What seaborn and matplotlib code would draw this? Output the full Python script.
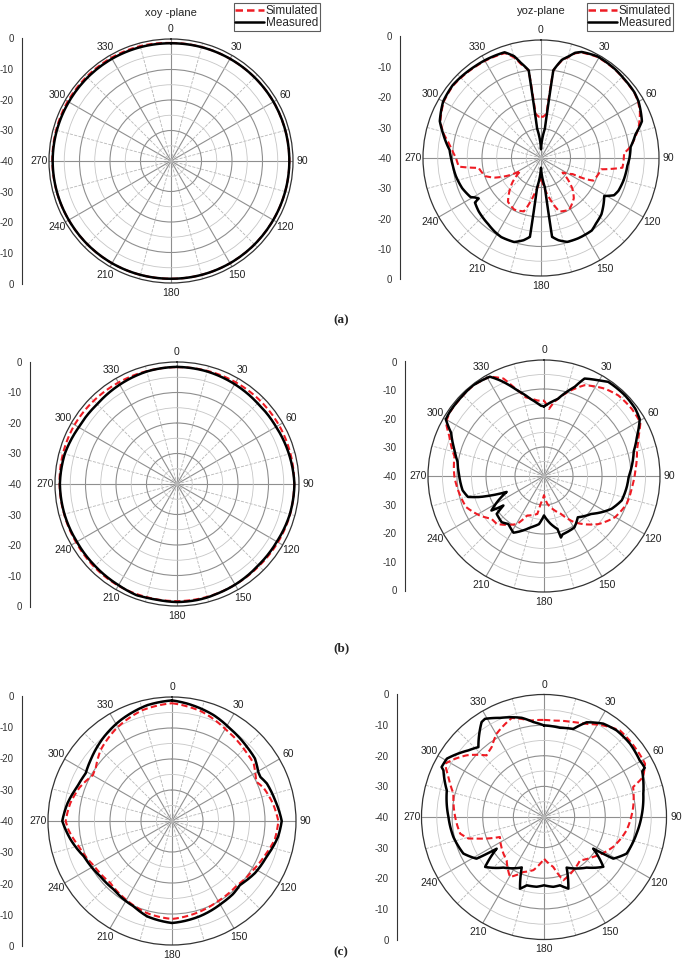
import numpy as np
import pandas as pd
import seaborn as sns
import matplotlib.pyplot as plt
from matplotlib.colors import to_rgb
from matplotlib.ticker import MultipleLocator, FuncFormatter

sns.set_style("white")
plt.rcParams['font.family'] = ['Liberation Sans', 'DejaVu Sans']

# ---- data: angle (deg, clockwise from north) and gain (dB) ----
# (a) xoy-plane
a_xoy_meas_ang = [0, 30, 60, 90, 120, 150, 180, 210, 240, 270, 300, 330, 360]
a_xoy_meas = [-1.4, -1.3, -1.2, -1.2, -1.3, -1.3, -1.4, -1.3, -1.3, -1.2, -1.3, -1.3, -1.4]
a_xoy_sim_ang = [0, 30, 60, 90, 120, 150, 180, 210, 240, 270, 300, 330, 345, 360]
a_xoy_sim = [-1.3, -1.3, -1.2, -1.2, -1.3, -1.3, -1.4, -1.3, -1.3, -1.1, -0.9, -0.9, -1.0, -1.3]

# (a) yoz-plane
a_yoz_meas_ang = [0, 7.5, 8, 12, 15.4, 18, 21, 29, 40, 46, 55, 60, 70, 76, 83, 90, 95, 105,
                  113, 117, 121, 125, 133, 140, 145, 155, 162.6, 168, 172, 172.5, 180, 187.5,
                  188, 192, 197.7, 206.7, 212, 218.5, 229.5, 236, 237, 239, 241, 249, 258,
                  265, 270, 275, 284, 290, 300, 309.5, 324.5, 330, 341, 345.2, 348, 352,
                  352.5, 360]
a_yoz_meas = [-37, -30, -10, -6, -4.2, -2.5, -1.5, -0.6, -0.8, -1.1, -1.3, -1.8, -3.6, -7,
              -9.4, -10, -10.6, -11, -11.5, -12.2, -15, -14, -12, -11, -10, -10, -10.2,
              -11.5, -13, -30, -36.7, -30, -13, -11.5, -10.1, -10, -10.5, -11.3, -12.2,
              -13, -14.8, -14, -12.7, -11.4, -10.5, -10, -9.5, -8.9, -5.8, -3.5, -1.7,
              -1.2, -1.7, -1.8, -2.1, -4.3, -7, -10, -30, -37]
a_yoz_sim_ang = [0, 3, 7, 8, 12, 15.4, 18, 21, 29, 40, 46, 55, 60, 65, 72.5, 82.8, 86.7,
                 96.8, 100.6, 113.4, 115.4, 117, 124, 128.4, 134.4, 140.8, 151.5, 161, 168,
                 180, 190, 197.8, 207.4, 217, 229.6, 237.6, 242, 247, 252, 261, 264, 270,
                 276, 280, 284, 290, 300, 309.5, 324.5, 330, 341, 345.2, 348, 352, 353, 357,
                 360]
a_yoz_sim = [-26, -26, -25, -10, -6.3, -4.4, -2.7, -1.7, -0.8, -0.9, -1.2, -1.4, -2.0,
             -3.0, -5.3, -9.4, -11.8, -12.2, -19.2, -20.7, -23.4, -28, -31.2, -28.5, -25.1,
             -22.4, -20, -20.8, -26, -34, -28, -21, -20.3, -21.4, -27.3, -31.8, -27.2, -23,
             -20.1, -18.6, -12, -11.2, -9.5, -8, -6.0, -3.7, -1.9, -1.4, -1.9, -2.0, -2.4,
             -4.8, -7.5, -10, -25, -26, -26]

# (b) xoy-plane
b_xoy_meas_ang = [0, 15, 30, 45, 60, 75, 90, 105, 120, 135, 150, 160, 165, 170, 180, 190,
                  195, 200, 210, 225, 240, 255, 270, 285, 300, 315, 330, 345, 360]
b_xoy_meas = [-1.6, -1.8, -2.2, -2.6, -2.5, -2.0, -1.5, -1.7, -2.2, -2.3, -1.9, -1.7, -1.5,
              -1.4, -1.3, -1.5, -1.4, -1.2, -1.7, -2.0, -2.1, -1.8, -1.6, -1.9, -2.8, -3.0,
              -2.4, -1.8, -1.6]
b_xoy_sim_ang = [0, 15, 30, 45, 60, 75, 90, 105, 120, 135, 150, 165, 180, 195, 210, 225,
                 240, 255, 270, 285, 300, 315, 330, 345, 360]
b_xoy_sim = [-1.7, -1.6, -1.5, -1.4, -1.4, -1.5, -1.6, -1.6, -1.8, -2.0, -1.9, -1.7, -1.6,
             -1.6, -1.5, -1.6, -1.8, -1.7, -1.5, -1.3, -1.2, -1.4, -1.6, -1.7, -1.7]

# (b) yoz-plane
b_yoz_meas_ang = [0, 10, 18.9, 22.6, 29.5, 34.3, 45.2, 53.7, 59.3, 66.8, 74.6, 90.5, 97.4,
                  107.4, 115.9, 128.7, 140.7, 149.4, 162.3, 164.6, 165.7, 172, 180, 186,
                  194.7, 208.3, 216.5, 222.4, 231.3, 234, 236.7, 246.9, 251.9, 254.6, 260,
                  269.5, 279.3, 286.4, 294.9, 300, 303.9, 312.4, 321.9, 331.4, 335.3, 342.5,
                  350, 357.2, 360]
b_yoz_meas = [-16, -13.1, -7.6, -3.6, -2.1, -0.7, -0.6, -0.9, -1.6, -5.1, -7.9, -10.8,
              -11.2, -11.9, -14.1, -19.1, -21.6, -19.4, -18.9, -18, -21.1, -23.3, -26.4,
              -23.3, -21.7, -17.8, -19.4, -18.4, -19.1, -22.7, -18.3, -26, -16.7, -12.8,
              -11.5, -10.8, -9.8, -7.8, -4.7, -0.9, -0.7, -0.6, -0.3, -1.0, -3.7, -9, -13,
              -15.7, -16]
b_yoz_sim_ang = [0, 4.3, 7.8, 15.8, 24.1, 34.9, 42.7, 52.7, 61, 67.1, 74.2, 86.2, 97,
                 108.5, 120.2, 131.6, 146.7, 155.9, 173, 180, 187, 190, 203, 209.4, 224.6,
                 230.7, 238.4, 248.2, 258.2, 269.6, 282.3, 292.8, 298.6, 303.9, 312, 321.9,
                 331.4, 337.4, 341.1, 346.7, 354.9, 360]
b_yoz_sim = [-14, -16.8, -14.3, -9.9, -5.7, -3.3, -2.2, -1.9, -2.0, -4.6, -6.7, -8.4,
             -9.4, -9.9, -11.7, -15, -20.9, -25.7, -30.3, -33.4, -30.3, -26.7, -25.2, -21,
             -16.8, -16.7, -14, -11.1, -10.2, -9.1, -8.4, -4.6, -1.5, -0.8, -0.7, -0.4,
             -1.0, -3.6, -7.6, -12.1, -13.9, -14]

# (c) xoy-plane
c_xoy_meas_ang = [0, 7.3, 21.5, 32.2, 45.3, 53, 60.4, 63.3, 68.4, 78.5, 90, 98.4, 110.6,
                  122.1, 133.1, 140, 148.7, 163.5, 180, 194.6, 204.1, 212.9, 220.2, 232.2,
                  248, 259.4, 270, 279.6, 289.9, 298.8, 306.8, 321, 332.9, 347.8, 360]
c_xoy_meas = [-1.1, -1.8, -3.3, -4.8, -6.0, -6.5, -8.0, -8.2, -7.1, -6.1, -4.6, -5.4, -7.4,
              -8.4, -9.9, -9.3, -9.0, -8.0, -7.1, -8.2, -9.8, -10.4, -11, -10.8, -9.4, -6.8,
              -4.6, -5.8, -7.5, -8.2, -7.2, -5.1, -3.5, -1.8, -1.1]
c_xoy_sim_ang = [0, 15, 30, 45, 55, 60, 65, 70, 80, 90, 100, 110, 120, 135, 150, 165, 180,
                 195, 210, 225, 240, 255, 265, 270, 280, 290, 300, 305, 315, 330, 345, 360]
c_xoy_sim = [-2.0, -3.4, -5.7, -7.2, -7.8, -9.0, -10.0, -8.6, -7.0, -5.7, -6.3, -8.0, -9.3,
             -10.5, -10.2, -9.3, -8.4, -9.2, -10.6, -11.8, -11.0, -8.8, -6.5, -5.7, -6.7,
             -8.3, -10.5, -10.0, -7.5, -5.0, -3.0, -2.0]

# (c) yoz-plane
c_yoz_meas_ang = [0, 10.2, 18.4, 24.2, 32.4, 40, 49.5, 59.4, 62, 64, 65, 76.8, 90, 100.2,
                  113.9, 121, 122.7, 130, 139.9, 155.9, 161.2, 166.8, 172.4, 180, 186,
                  194.2, 198.5, 203.8, 218.8, 229.7, 236.2, 238.3, 245.6, 257.6, 270, 285.3,
                  294.9, 296, 301, 311.4, 316.8, 326.7, 329, 336.1, 347.3, 353.6, 360]
c_yoz_meas = [-10.1, -10.4, -9.7, -6.1, -3.9, -3.1, -3.1, -3.7, -3.5, -3.4, -4.6, -6.7,
              -8.2, -9.3, -10.5, -13.6, -20.9, -14.7, -18.4, -21.9, -15.3, -17.1, -17,
              -17.7, -17.1, -17, -15.3, -22, -18.8, -14.8, -21.4, -14.1, -11.1, -9.7, -8.8,
              -7.1, -3.8, -2.8, -3.0, -7.1, -8.7, -2.9, -2.6, -4.6, -6.8, -8.8, -10.1]
c_yoz_sim_ang = [0, 5.5, 17.2, 24.6, 32.9, 41.2, 52.4, 62.2, 68, 71.4, 83.6, 99.2, 113.4,
                 129, 140.3, 151.2, 163, 169.4, 180, 191.3, 200.6, 209.5, 220.7, 235, 245.6,
                 251.7, 254, 258.8, 270, 284.4, 292.7, 298.3, 303.2, 308.6, 317, 323.2,
                 330.4, 342, 351.8, 360]
c_yoz_sim = [-8.3, -8.4, -7.6, -6.6, -4.4, -2.4, -2.6, -2.7, -5.1, -9.3, -10.7, -12.7,
             -15.4, -19.3, -21.6, -20.1, -18.4, -23.4, -26.4, -22.3, -20.8, -17.5, -21.3,
             -23, -24.2, -17.5, -14.4, -12.1, -11, -9.5, -6.2, -3.3, -5.3, -7.7, -12.5,
             -11.5, -8.7, -6, -8.2, -8.3]

panels = [
    # (sim_ang, sim, meas_ang, meas, cx, cy, ring R, scale R, scale x)
    (a_xoy_sim_ang, a_xoy_sim, a_xoy_meas_ang, a_xoy_meas, 171, 161, 122, 123, 22),
    (a_yoz_sim_ang, a_yoz_sim, a_yoz_meas_ang, a_yoz_meas, 541, 158, 118, 121.5, 400),
    (b_xoy_sim_ang, b_xoy_sim, b_xoy_meas_ang, b_xoy_meas, 177, 484, 122, 122.5, 30),
    (b_yoz_sim_ang, b_yoz_sim, b_yoz_meas_ang, b_yoz_meas, 544, 476, 116, 114.5, 405),
    (c_xoy_sim_ang, c_xoy_sim, c_xoy_meas_ang, c_xoy_meas, 172, 821, 124, 125, 22),
    (c_yoz_sim_ang, c_yoz_sim, c_yoz_meas_ang, c_yoz_meas, 544, 817, 122.5, 123, 397),
]

W, H = 685, 967
fig = plt.figure(figsize=(W / 100, H / 100), dpi=100)


def scale_label(v, pos):
    val = 40 - abs(v - 40)
    return "0" if val == 0 else f"-{val:.0f}"


axes = []
for i, (sa, sv, ma, mv, cx, cy, R, SR, sx) in enumerate(panels):
    ax = fig.add_axes([(cx - R) / W, 1 - (cy + R) / H, 2 * R / W, 2 * R / H],
                      projection='polar')
    df = pd.DataFrame({
        "theta": np.deg2rad(list(sa) + list(ma)),
        "r": np.array(list(sv) + list(mv)) + 40,
        "Series": ["Simulated"] * len(sa) + ["Measured"] * len(ma),
    })
    sns.lineplot(data=df, x="theta", y="r", hue="Series", style="Series",
                 hue_order=["Simulated", "Measured"], style_order=["Simulated", "Measured"],
                 palette={"Simulated": "#ee1c24", "Measured": "black"},
                 dashes={"Simulated": (3, 1.6), "Measured": ""},
                 estimator=None, sort=False, ax=ax, legend=(i < 2), linewidth=1.7)
    # draw the polar segments as curves, measured trace on top
    for ln in ax.lines:
        ln.get_path()._interpolation_steps = 40
        ln.set_data(*ln.get_data())
        if to_rgb(ln.get_color()) == (0.0, 0.0, 0.0):
            ln.set_zorder(3)
            ln.set_linewidth(1.8)
        else:
            ln.set_zorder(2.5)
            ln.set_linewidth(1.5)
    ax.set_theta_zero_location("N")
    ax.set_theta_direction(-1)
    ax.set_ylim(0, 40)
    ax.set_xlabel("")
    ax.set_ylabel("")
    ax.set_xticks(np.deg2rad(np.arange(0, 360, 30)))
    ax.set_xticklabels([str(a) for a in range(0, 360, 30)], fontsize=7.5, color="#222222")
    ax.set_xticks(np.deg2rad(np.arange(15, 360, 30)), minor=True)
    ax.set_yticks([10, 20, 30])
    ax.set_yticks([5, 15, 25, 35], minor=True)
    ax.set_yticklabels([])
    ax.tick_params(axis="x", which="both", length=0, pad=0)
    ax.tick_params(axis="y", which="both", length=0)
    ax.grid(which="major", color="#8f8f8f", linewidth=0.8, linestyle="-")
    ax.grid(which="minor", axis="x", color="#b8b8b8", linewidth=0.6, linestyle="--")
    ax.grid(which="minor", axis="y", color="#c6c6c6", linewidth=0.6, linestyle="-")
    ax.spines["polar"].set_color("#333333")
    ax.spines["polar"].set_linewidth(0.9)
    ax.set_axisbelow(True)
    axes.append(ax)

    # left-hand radial scale (0 ... -40 ... 0)
    sax = fig.add_axes([sx / W, 1 - (cy + SR) / H, 0.001, 2 * SR / H])
    sax.set_ylim(0, 80)
    sax.set_facecolor("none")
    for s in ["top", "right", "bottom"]:
        sax.spines[s].set_visible(False)
    sax.spines["left"].set_color("#333333")
    sax.spines["left"].set_linewidth(0.8)
    sax.xaxis.set_visible(False)
    sax.yaxis.set_major_locator(MultipleLocator(10))
    sax.yaxis.set_minor_locator(MultipleLocator(2))
    sax.yaxis.set_major_formatter(FuncFormatter(scale_label))
    sax.tick_params(axis="y", which="major", length=4, width=0.8, labelsize=7,
                    colors="#333333", pad=2, direction="out")
    sax.tick_params(axis="y", which="minor", length=2, width=0.6, colors="#333333",
                    direction="out")

# legends on the top row
legend_kw = dict(title=None, frameon=True, fontsize=8.5, fancybox=False,
                 edgecolor="#333333", borderpad=0.15, labelspacing=0.0,
                 handlelength=2.4, handletextpad=0.2, borderaxespad=0)
sns.move_legend(axes[0], "upper right", bbox_to_anchor=(320 / W, 1 - 3 / H),
                bbox_transform=fig.transFigure, **legend_kw)
sns.move_legend(axes[1], "upper right", bbox_to_anchor=(673 / W, 1 - 3 / H),
                bbox_transform=fig.transFigure, **legend_kw)
for ax in axes[:2]:
    leg = ax.get_legend()
    leg.get_frame().set_linewidth(0.8)
    for h in leg.legend_handles:
        h.set_linewidth(1.8)

fig.text(171 / W, 1 - 13 / H, "xoy -plane", ha="center", va="center", fontsize=8,
         color="#222222")
fig.text(541 / W, 1 - 11 / H, "yoz-plane", ha="center", va="center", fontsize=8,
         color="#222222")

for lab, y in [("(a)", 320), ("(b)", 648), ("(c)", 952)]:
    fig.text(341 / W, 1 - y / H, lab, ha="center", va="center", fontsize=9.5,
             fontweight="bold", family=["Liberation Serif", "DejaVu Serif"])

fig.savefig("out.png", dpi=100)
